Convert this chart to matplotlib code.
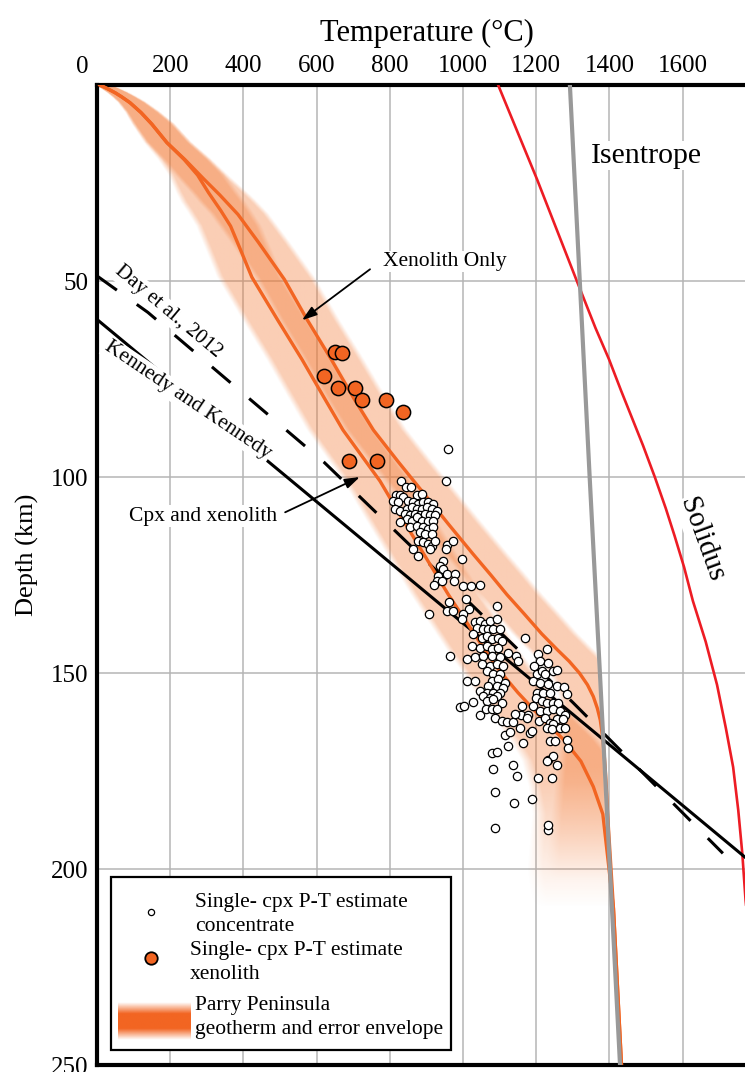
import numpy as np
import matplotlib
matplotlib.use("Agg")
import matplotlib.pyplot as plt
from matplotlib.patches import Rectangle

plt.rcParams['font.family'] = ['Liberation Serif', 'DejaVu Serif']

# Geotherm fitted to xenolith estimates only
geo_xeno_depth = [0, 1, 2, 3, 4.5, 7, 10, 14.7, 19, 24, 28, 33, 40, 49.6, 60, 70, 80, 88, 96, 105,
                  112, 119.6, 125, 130, 135, 140, 144, 147, 150, 153, 156, 159, 162, 166, 170, 175,
                  180, 186, 210, 250]
geo_xeno_temp = [8, 30, 50, 67, 90, 120, 150, 191, 240, 292, 335, 385, 440, 512, 575, 640, 702, 755,
                 822, 900, 960, 1027, 1076, 1120, 1168, 1215, 1257, 1290, 1318, 1340, 1356, 1367,
                 1375, 1381, 1385, 1389, 1392, 1395, 1411, 1433]

# Geotherm fitted to cpx concentrate + xenolith estimates
geo_cpx_depth = [0, 1, 2, 3, 4.5, 7, 10, 14.7, 19, 23, 27.5, 32, 36, 42, 49, 60, 70, 80, 88, 101,
                 110, 120, 130, 138.5, 145, 150, 155, 161.5, 167, 172.5, 179, 186, 210, 250]
geo_cpx_temp = [8, 30, 50, 67, 90, 120, 150, 191, 238, 275, 305, 338, 365, 392, 423, 494, 560, 622,
                672, 773, 830, 895, 960, 1020, 1066, 1105, 1150, 1215, 1275, 1322, 1356, 1382,
                1411, 1433]

# Error envelope half widths (deg C) on each side of the geotherms
env_depth = [0, 10, 30, 150, 175, 200]
env_xeno_left = [15, 50, 70, 75, 120, 160]
env_xeno_right = [25, 55, 75, 90, 90, 90]
env_cpx_left = [15, 50, 85, 95, 150, 200]
env_cpx_right = [25, 55, 75, 85, 85, 85]

isentrope_depth = [0, 50, 100, 150, 183, 250]
isentrope_temp = [1292, 1319, 1346, 1374, 1392, 1429]

solidus_depth = [0, 24, 50, 62, 70, 78, 85, 92, 100, 108, 115, 123, 131.6, 142, 153, 164, 174,
                 185, 196, 208, 225]
solidus_temp = [1096, 1202, 1311, 1362, 1399, 1432, 1462, 1492, 1524, 1554, 1578, 1604, 1628,
                1663, 1694, 1718, 1738, 1752, 1763, 1772, 1790]

kennedy_temp = [0, 1781]
kennedy_depth = [59.8, 197.8]

day_temp = [0, 139, 620, 1300, 1710]
day_depth = [48.7, 58, 96.2, 157.5, 196]

xeno_temp = [650, 669, 620, 658, 705, 724, 790, 836, 688, 765]
xeno_depth = [68.2, 68.4, 74.3, 77.4, 77.4, 80.4, 80.4, 83.5, 95.8, 95.8]

conc_temp = [
    960, 953,
    830, 844, 858, 817, 828, 837, 873, 887, 810, 823, 851, 864, 878, 892, 905, 919,
    814, 828, 846, 860, 873, 887, 901, 914, 928, 842, 855, 869, 882, 896, 910, 923,
    846, 860, 873, 887, 905, 919, 828, 855, 873, 892, 905, 919, 882, 896, 914,
    878, 892, 905, 914, 923, 910, 955, 972, 953, 864, 878, 998,
    944, 937, 946, 933, 955, 978, 928, 922, 942, 976, 999, 1021, 1046,
    1092, 962, 955, 974, 908, 1007, 1016, 1001, 996, 1033, 1046, 1060, 1074, 1092,
    1037, 1054, 1069, 1083, 1101, 1028, 1051, 1065, 1078, 1096, 1106, 1169,
    1025, 1046, 1065, 1078, 1096, 1124, 964, 1010, 1033, 1055, 1078, 1101, 1145, 1151,
    1051, 1074, 1092, 1110, 1065, 1083, 1101, 1078, 1096, 1115, 1069, 1092, 1110,
    1046, 1065, 1083, 1101, 1055, 1074, 1092, 1065, 1083, 1106, 1010, 1033, 1028,
    992, 1003, 1046, 1063, 1078, 1092, 1087, 1106, 1119, 1137, 1115, 1128, 1156,
    1158, 1160, 1178, 1176, 1142, 1124, 1163, 1183, 1078, 1092, 1081, 1136, 1148,
    1087, 1140, 1188, 1204, 1244, 1087, 1233, 1233,
    1229, 1206, 1210, 1194, 1233, 1247, 1258, 1201, 1215, 1224, 1192, 1210, 1233, 1256, 1276, 1283,
    1201, 1219, 1238, 1199, 1215, 1229, 1247, 1260, 1192, 1210, 1229, 1247, 1265, 1279,
    1208, 1224, 1238, 1256, 1274, 1247, 1229, 1242, 1265, 1280, 1239, 1251, 1283, 1288,
    1233, 1247, 1229, 1256, 1188,
]
conc_depth = [
    92.8, 100.9,
    100.9, 102.6, 102.6, 104.7, 104.7, 105.2, 104.7, 104.3, 106.0, 106.4, 106.0, 106.4, 106.8, 106.4, 106.4, 106.8,
    108.1, 108.6, 108.1, 107.7, 108.1, 108.1, 107.7, 108.1, 108.6, 109.4, 109.8, 109.4, 109.8, 109.4, 109.8, 109.8,
    110.7, 111.1, 110.3, 111.1, 111.1, 111.1, 111.5, 112.8, 112.6, 112.8, 113.2, 112.8, 114.1, 114.5, 114.5,
    116.2, 116.7, 117.1, 117.5, 116.2, 118.4, 117.3, 116.4, 118.4, 118.4, 120.1, 120.9,
    121.4, 122.6, 123.5, 125.2, 124.8, 124.8, 126.5, 127.5, 126.5, 126.5, 127.7, 127.7, 127.5,
    132.9, 132.0, 134.1, 134.1, 135.0, 131.2, 133.7, 135.0, 136.3, 137.1, 136.7, 137.6, 136.7, 136.3,
    138.4, 138.8, 138.8, 138.8, 138.8, 140.1, 141.0, 140.5, 141.4, 141.0, 141.8, 141.0,
    143.1, 143.5, 143.1, 143.9, 143.5, 144.8, 145.6, 146.3, 145.9, 145.6, 145.6, 145.9, 145.7, 146.9,
    147.8, 148.2, 147.8, 148.2, 149.5, 150.3, 150.3, 152.0, 151.6, 152.5, 153.3, 153.3, 153.7,
    154.6, 155.0, 155.0, 155.0, 155.9, 156.3, 155.9, 157.2, 156.7, 157.6, 152.0, 152.0, 157.3,
    158.7, 158.4, 160.6, 159.3, 159.3, 159.3, 161.6, 162.3, 162.4, 162.4, 165.7, 165.0, 164.0,
    160.6, 158.4, 160.6, 161.4, 160.4, 168.7, 167.8, 165.3, 170.4, 170.1, 174.6, 173.5, 176.3,
    180.3, 183.2, 182.1, 176.9, 176.9, 189.6, 190.0, 188.7,
    143.9, 145.1, 146.9, 148.2, 147.4, 149.5, 149.3, 150.3, 149.5, 150.3, 152.0, 152.5, 152.9, 153.3, 153.6, 155.3,
    155.0, 155.0, 155.0, 156.3, 157.2, 157.6, 157.6, 157.6, 158.4, 159.7, 159.7, 159.3, 159.7, 160.6,
    162.3, 161.4, 162.7, 161.8, 161.8, 163.1, 164.0, 164.4, 164.0, 164.0, 167.4, 167.4, 167.0, 169.1,
    172.1, 171.2, 172.5, 173.4, 164.8,
]

t_ticks = [200, 400, 600, 800, 1000, 1200, 1400, 1600]
d_ticks = [50, 100, 150, 200, 250]

T_MAX = 1781
ORANGE = '#f26522'
ENV_RGB = (242 / 255, 118 / 255, 48 / 255)


def envelope_alpha(tt, dd, depth, temp, hw_left, hw_right, fade_start, fade_end):
    """Soft-edged band around a geotherm, clipped at the isentrope."""
    tc = np.interp(dd, depth, temp)
    hl = np.interp(dd, env_depth, hw_left)
    hr = np.interp(dd, env_depth, hw_right)
    u = np.where(tt < tc, (tc - tt) / hl, (tt - tc) / hr)
    prof = np.clip((1.12 - u) / 0.22, 0, 1)
    fade = np.clip((fade_end - dd) / (fade_end - fade_start), 0, 1)
    wall = np.clip((np.interp(dd, isentrope_depth, isentrope_temp) - tt) / 6, 0, 1)
    return prof * fade * wall


fig = plt.figure(figsize=(7.45, 10.72), dpi=100)
ax = fig.add_axes([0.1302, 0.0065, 0.875, 0.9142])

# error envelopes rendered as an RGBA image
tt, dd = np.meshgrid(np.linspace(0, T_MAX, 800), np.linspace(0, 250, 1000))
a_xeno = 0.36 * envelope_alpha(tt, dd, geo_xeno_depth, geo_xeno_temp,
                               env_xeno_left, env_xeno_right, 174, 203)
a_cpx = 0.36 * envelope_alpha(tt, dd, geo_cpx_depth, geo_cpx_temp,
                              env_cpx_left, env_cpx_right, 178, 210)
alpha = 1 - (1 - a_xeno) * (1 - a_cpx)
img = np.zeros(tt.shape + (4,))
img[..., 0], img[..., 1], img[..., 2] = ENV_RGB
img[..., 3] = alpha
ax.imshow(img, extent=[0, T_MAX, 250, 0], origin='upper', aspect='auto',
          interpolation='bilinear', zorder=1)

# reference curves
ax.plot(solidus_temp, solidus_depth, color='#ed1c24', lw=1.9, zorder=3)
ax.plot(kennedy_temp, kennedy_depth, color='black', lw=2.2, zorder=3)
ax.plot(day_temp, day_depth, color='black', lw=2.2, ls=(0, (8, 8)), zorder=3)
ax.plot(geo_xeno_temp, geo_xeno_depth, color=ORANGE, lw=2.4, zorder=4, solid_joinstyle='round')
ax.plot(geo_cpx_temp, geo_cpx_depth, color=ORANGE, lw=2.4, zorder=4, solid_joinstyle='round')
ax.plot(isentrope_temp, isentrope_depth, color='#999999', lw=3, zorder=5)

# P-T estimates
ax.scatter(conc_temp, conc_depth, s=36, facecolor='white', edgecolor='black',
           linewidth=0.9, zorder=6)
ax.scatter(xeno_temp, xeno_depth, s=105, facecolor=ORANGE, edgecolor='black',
           linewidth=1.1, zorder=7)

# labels on the plot
box = dict(facecolor='white', edgecolor='none', pad=1)
ax.text(1500, 18, 'Isentrope', fontsize=21.5, ha='center', va='center', bbox=box, zorder=8)
ax.text(1652, 116, 'Solidus', fontsize=21, ha='center', va='center', rotation=-70,
        bbox=box, zorder=8)
ax.text(194, 57.9, 'Day et al., 2012', fontsize=15, ha='center', va='center',
        rotation=-40, rotation_mode='anchor', bbox=box, zorder=8)
ax.text(247, 80.4, 'Kennedy and Kennedy', fontsize=15.5, ha='center', va='center',
        rotation=-34, rotation_mode='anchor', bbox=box, zorder=8)
ax.text(950, 45, 'Xenolith Only', fontsize=15.5, ha='center', va='center', bbox=box, zorder=8)
ax.text(290, 110, 'Cpx and xenolith', fontsize=15.5, ha='center', va='center', bbox=box, zorder=8)
arrow = dict(arrowstyle='-|>,head_length=0.9,head_width=0.3', color='black', lw=1.3,
             shrinkA=0, shrinkB=0)
ax.annotate('', xy=(560, 60), xytext=(746, 47), arrowprops=arrow, zorder=8)
ax.annotate('', xy=(718, 100), xytext=(514, 109), arrowprops=arrow, zorder=8)

# legend box
ax.add_patch(Rectangle((38, 202), 929, 44.2, facecolor='white', edgecolor='black',
                       lw=1.6, zorder=9))
ax.scatter([148], [211], s=20, facecolor='white', edgecolor='black', linewidth=0.9, zorder=10)
ax.scatter([148], [222.7], s=80, facecolor=ORANGE, edgecolor='black', linewidth=1.3, zorder=10)
s = np.linspace(0, 1, 60)
grad = np.clip((0.5 - np.abs(s - 0.5)) / 0.3, 0, 1)[:, None] * np.ones((1, 10))
patch = np.zeros(grad.shape + (4,))
patch[..., 0], patch[..., 1], patch[..., 2] = matplotlib.colors.to_rgb(ORANGE)
patch[..., 3] = grad
ax.imshow(patch, extent=[57, 254, 243.6, 234], origin='upper', aspect='auto',
          interpolation='bilinear', zorder=10)
ax.text(268, 211.6, 'Single- cpx P-T estimate\nconcentrate', fontsize=15.5,
        ha='left', va='center', linespacing=1.38, zorder=10)
ax.text(254, 223.9, 'Single- cpx P-T estimate\nxenolith', fontsize=15.5,
        ha='left', va='center', linespacing=1.38, zorder=10)
ax.text(268, 237.8, 'Parry Peninsula\ngeotherm and error envelope', fontsize=15.5,
        ha='left', va='center', linespacing=1.38, zorder=10)

# axes styling
ax.set_xlim(0, T_MAX)
ax.set_ylim(250, 0)
ax.xaxis.tick_top()
ax.set_xticks(t_ticks)
ax.set_yticks(d_ticks)
ax.tick_params(length=0, labelsize=18, pad=6)
ax.text(-41, -4.5, '0', fontsize=18, ha='center', va='center', clip_on=False)
ax.grid(color='#b5b5b5', lw=1.1, zorder=0)
ax.set_axisbelow(True)
for side in ['top', 'left', 'bottom']:
    ax.spines[side].set_linewidth(3)
ax.spines['right'].set_visible(False)

fig.text(427 / 745, 1 - 33 / 1072, 'Temperature (\u00b0C)', fontsize=22, ha='center', va='center')
fig.text(27 / 745, 1 - 555 / 1072, 'Depth (km)', fontsize=19, ha='center', va='center',
         rotation=90)

fig.savefig('out.png', dpi=100)
